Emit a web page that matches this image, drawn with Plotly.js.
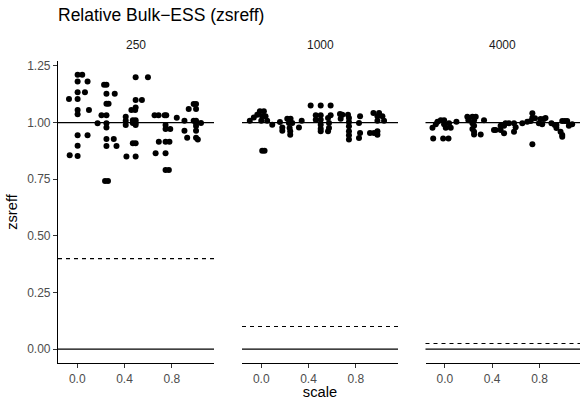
<!DOCTYPE html>
<html>
<head>
<meta charset="utf-8">
<script src="https://cdn.plot.ly/plotly-3.0.1.min.js"></script>
<style>html,body{margin:0;padding:0;background:#fff;}#chart{width:580px;height:400px;}</style>
</head>
<body>
<div id="chart"></div>
<script>
// Facet labels (draws per chain)
var facets = ["250", "1000", "4000"];
// Dashed reference line per facet (100 / draws)
var dashedRef = [0.4, 0.1, 0.025];
// Solid reference lines
var solidRefs = [1, 0];

// Panel "250" (jittered scale, zsreff)
var x250 = [0.003,0.042,0.003,0.087,0.003,0.065,-0.07,0.003,0.003,0.003,0.099,0.003,0.087,0.003,-0.064,0.003,
  0.227,0.247,0.247,0.317,0.247,0.265,0.205,0.247,0.172,0.247,0.247,0.247,0.309,0.247,0.332,0.235,0.260,
  0.494,0.598,0.494,0.547,0.494,0.490,0.458,0.41,0.41,0.47,0.494,0.47,0.494,0.41,0.494,0.47,0.494,0.416,0.494,
  0.654,0.688,0.739,0.753,0.842,0.747,0.747,0.787,0.69,0.747,0.78,0.663,0.747,0.747,0.775,
  0.985,1.005,0.943,1.005,0.907,0.985,1.005,1.005,1.047,1.005,0.907,1.005,0.93,1.005,1.02];
var y250 = [1.211,1.211,1.182,1.182,1.134,1.134,1.104,1.104,1.056,1.037,1.056,0.944,0.944,0.898,0.856,0.853,
  1.167,1.167,1.127,1.127,1.083,1.083,1.033,1.033,0.997,0.997,0.979,0.928,0.928,0.897,0.897,0.742,0.742,
  1.2,1.2,1.1,1.1,1.067,1.056,1.056,1.026,1.008,1.011,1.011,0.998,0.998,0.989,0.989,0.909,0.909,0.85,0.85,
  1.032,1.032,1.032,1.032,1.022,0.989,0.972,0.972,0.916,0.916,0.916,0.865,0.865,0.791,0.791,
  1.082,1.082,1.06,1.06,1.008,1.008,1.008,0.998,0.998,0.985,0.964,0.964,0.933,0.933,0.925];

// Panel "1000"
var x1000 = [-0.097,-0.063,-0.012,0.022,-0.034,0.008,0.036,0,0.05,0.093,0.008,0.028,
  0.158,0.178,0.178,0.22,0.248,0.234,0.262,0.24,0.245,0.245,0.342,0.319,
  0.418,0.503,0.587,0.461,0.503,0.461,0.503,0.503,0.503,0.503,0.565,0.587,0.573,0.573,0.565,
  0.666,0.686,0.672,0.734,0.742,0.742,0.742,0.742,0.742,0.742,0.836,0.827,0.836,0.827,
  0.949,0.997,0.983,1.025,1.039,0.983,0.92,0.954,0.983,0.983];
var y1000 = [1.008,1.023,1.05,1.05,1.035,1.028,1.028,1.008,1.008,0.991,0.876,0.876,
  1.003,0.979,0.964,1.017,1.017,0.998,0.998,0.976,0.962,0.947,1.008,0.979,
  1.076,1.076,1.076,1.032,1.032,1.013,1.013,0.991,0.973,0.962,1.02,1.032,0.998,0.976,0.962,
  1.038,1.035,1.017,1.035,1.02,1.003,0.984,0.962,0.944,0.925,1.028,0.998,0.954,0.932,
  1.042,1.042,1.028,1.028,1.008,1.008,0.954,0.954,0.962,0.947];

// Panel "4000"
var x4000 = [-0.104,-0.098,-0.076,-0.062,-0.034,-0.006,-0.014,0.031,-0.006,0.008,0.036,0.05,0.098,
  0.19,0.233,0.261,0.199,0.247,0.233,0.247,0.331,0.233,0.247,0.303,0.247,
  0.415,0.429,0.471,0.471,0.5,0.513,0.541,0.5,0.584,0.584,0.598,
  0.654,0.696,0.739,0.739,0.761,0.725,0.739,0.808,0.836,0.794,0.822,0.85,
  0.9,0.942,0.942,0.991,1.013,1.033,0.977,0.991,0.991,1.047,1.075,0.928];
var y4000 = [0.977,0.93,0.993,1.004,1.011,1.011,0.93,0.93,0.993,0.977,0.997,0.977,1.004,
  1.026,1.026,1.026,1.011,1.011,0.997,0.986,1.011,0.972,0.96,0.948,0.948,
  0.967,0.967,0.967,0.986,0.986,0.997,0.997,0.953,0.997,0.96,0.98,
  0.997,1.004,1.041,1.022,1.019,1.007,0.904,1.016,1.016,0.997,0.993,1.02,
  0.997,0.99,0.976,1.007,1.007,1.007,0.96,0.945,0.938,0.986,0.993,0.99];

var xs = [x250, x1000, x4000];
var ys = [y250, y1000, y4000];
var xaxKeys = ['x', 'x2', 'x3'];

var traces = [];
for (var i = 0; i < 3; i++) {
  traces.push({
    type: 'scatter', mode: 'markers',
    x: xs[i], y: ys[i], xaxis: xaxKeys[i], yaxis: 'y',
    marker: {color: '#000000', size: 6, line: {width: 0}},
    hoverinfo: 'skip', showlegend: false
  });
}

var shapes = [];
var annotations = [];
for (var i = 0; i < 3; i++) {
  var xr = (i === 0 ? 'x' : 'x' + (i + 1)) + ' domain';
  solidRefs.forEach(function (v) {
    shapes.push({type: 'line', xref: xr, yref: 'y', x0: 0, x1: 1, y0: v, y1: v,
      line: {color: '#000000', width: 1.2}, layer: 'above'});
  });
  shapes.push({type: 'line', xref: xr, yref: 'y', x0: 0, x1: 1, y0: dashedRef[i], y1: dashedRef[i],
    line: {color: '#000000', width: 1.2, dash: '4px,4px'}, layer: 'above'});
  annotations.push({text: facets[i], xref: xr, x: 0.5, yref: 'paper', y: 1.053,
    xanchor: 'center', yanchor: 'middle', showarrow: false,
    font: {family: 'Liberation Sans, Arial, sans-serif', size: 12, color: '#1A1A1A'}});
}

var plotW = 522; // 580 - left margin
var tickFont = {family: 'Liberation Sans, Arial, sans-serif', size: 12, color: '#4D4D4D'};
function xax(d0, d1, rng, title) {
  var a = {
    domain: [d0 / plotW, d1 / plotW], range: rng, anchor: 'y',
    showline: true, linecolor: '#000000', linewidth: 1.1,
    ticks: 'outside', ticklen: 4, tickcolor: '#333333', tickwidth: 1,
    tickvals: [0, 0.4, 0.8], ticktext: ['0.0', '0.4', '0.8'],
    tickfont: tickFont, showgrid: false, zeroline: false, fixedrange: true
  };
  if (title) a.title = {text: title, font: {family: 'Liberation Sans, Arial, sans-serif', size: 14.7, color: '#000000'}, standoff: 4};
  return a;
}

var layout = {
  width: 580, height: 400,
  margin: {l: 58, r: 0, t: 61, b: 37},
  paper_bgcolor: '#ffffff', plot_bgcolor: '#ffffff',
  title: {text: 'Relative Bulk\u2212ESS (zsreff)', x: 58 / 580, xanchor: 'left', xref: 'container',
    y: 1 - 15 / 400, yanchor: 'middle', yref: 'container',
    font: {family: 'Liberation Sans, Arial, sans-serif', size: 17.5, color: '#000000'}},
  xaxis: xax(0, 156, [-0.163, 1.157]),
  xaxis2: xax(184, 340, [-0.163, 1.157], 'scale'),
  xaxis3: xax(367.5, 522, [-0.163, 1.141]),
  yaxis: {
    domain: [0, 1], range: [-0.061, 1.272], anchor: 'x',
    showline: true, linecolor: '#000000', linewidth: 1.1,
    ticks: 'outside', ticklen: 4, tickcolor: '#333333', tickwidth: 1,
    tickvals: [0, 0.25, 0.5, 0.75, 1, 1.25], tickformat: '.2f',
    tickfont: tickFont, showgrid: false, zeroline: false, fixedrange: true,
    title: {text: 'zsreff', font: {family: 'Liberation Sans, Arial, sans-serif', size: 14.7, color: '#000000'}, standoff: 6}
  },
  shapes: shapes,
  annotations: annotations
};

Plotly.newPlot('chart', traces, layout, {displayModeBar: false, staticPlot: true});
</script>
</body>
</html>
